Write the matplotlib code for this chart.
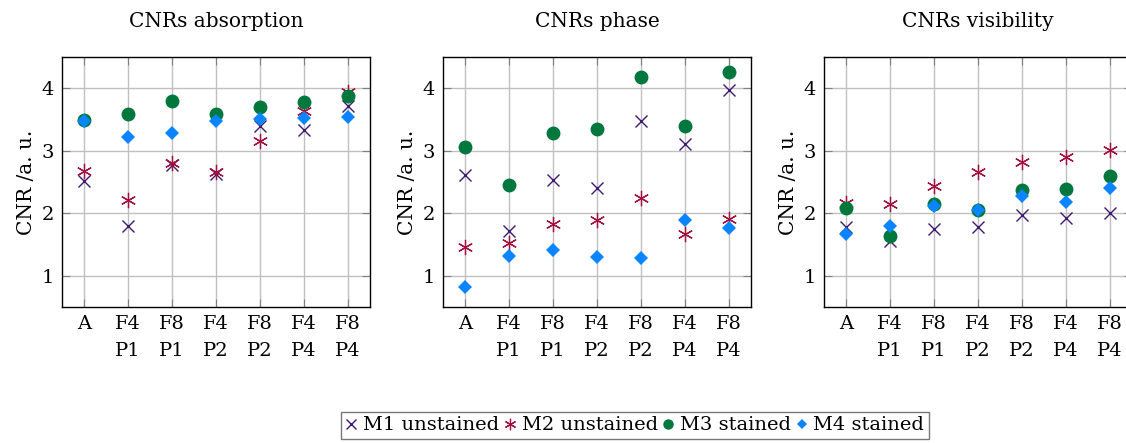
import matplotlib.pyplot as plt
from matplotlib.lines import Line2D

plt.rcParams['font.family'] = ['DejaVu Serif']
plt.rcParams['mathtext.fontset'] = 'dejavuserif'

categories = ['A', 'F4\nP1', 'F8\nP1', 'F4\nP2', 'F8\nP2', 'F4\nP4', 'F8\nP4']
titles = ['CNRs absorption', 'CNRs phase', 'CNRs visibility']

# CNR values per panel: absorption, phase, visibility
m1_unstained = [
    [2.51, 1.80, 2.78, 2.63, 3.39, 3.34, 3.71],
    [2.61, 1.71, 2.54, 2.40, 3.47, 3.11, 3.97],
    [1.78, 1.55, 1.75, 1.78, 1.97, 1.92, 2.00],
]
m2_unstained = [
    [2.68, 2.21, 2.81, 2.66, 3.16, 3.64, 3.95],
    [1.46, 1.53, 1.83, 1.89, 2.25, 1.67, 1.91],
    [2.16, 2.15, 2.43, 2.66, 2.82, 2.90, 3.01],
]
m3_stained = [
    [3.50, 3.59, 3.79, 3.59, 3.70, 3.78, 3.87],
    [3.06, 2.46, 3.28, 3.35, 4.18, 3.40, 4.26],
    [2.08, 1.63, 2.15, 2.05, 2.38, 2.39, 2.59],
]
m4_stained = [
    [3.47, 3.22, 3.28, 3.48, 3.51, 3.52, 3.54],
    [0.82, 1.31, 1.42, 1.30, 1.28, 1.89, 1.76],
    [1.67, 1.80, 2.11, 2.05, 2.27, 2.18, 2.41],
]

asterisk = (6, 2, 0)
styles = [
    ('M1 unstained', m1_unstained, dict(marker='x', color='#3d1a6e', markersize=9, markeredgewidth=1.0)),
    ('M2 unstained', m2_unstained, dict(marker=asterisk, color='#a3123f', markersize=11, markeredgewidth=0.9)),
    ('M3 stained', m3_stained, dict(marker='o', color='#00773c', markersize=10, markeredgewidth=0)),
    ('M4 stained', m4_stained, dict(marker='D', color='#0a84ff', markersize=7, markeredgewidth=0)),
]

fig = plt.figure(figsize=(11.26, 4.43), dpi=100)
lefts = [0.0551, 0.3934, 0.7318]
x = list(range(len(categories)))

for i, left in enumerate(lefts):
    ax = fig.add_axes([left, 0.307, 0.2735, 0.564])
    for name, data, st in styles:
        ax.plot(x, data[i], linestyle='none', label=name, **st)
    ax.set_xlim(-0.5, 6.5)
    ax.set_ylim(0.5, 4.5)
    ax.set_xticks(x)
    ax.set_xticklabels(categories, fontsize=14, linespacing=1.6)
    ax.set_yticks([1, 2, 3, 4])
    ax.set_yticklabels(['1', '2', '3', '4'], fontsize=14)
    ax.grid(True, color='#c0c0c0', linewidth=1.0)
    ax.set_axisbelow(True)
    ax.tick_params(direction='in', length=6, color='#808080', top=True, right=True, pad=6)
    for sp in ax.spines.values():
        sp.set_linewidth(1.0)
    ax.set_ylabel('CNR /a. u.', fontsize=14.5)
    ax.set_title(titles[i], fontsize=14.5, pad=22)

handles = [Line2D([], [], linestyle='none', **st) for _, _, st in styles]
for h in handles:
    h.set_markersize(h.get_markersize() * 0.75)
fig.legend(handles, [s[0] for s in styles], loc='upper left', bbox_to_anchor=(0.294, 0.093),
           ncol=4, frameon=True, fancybox=False, edgecolor='#555555', fontsize=14,
           handlelength=0.6, handletextpad=0.3, columnspacing=0.25, borderpad=0.25)

fig.savefig('out.png', dpi=100)
